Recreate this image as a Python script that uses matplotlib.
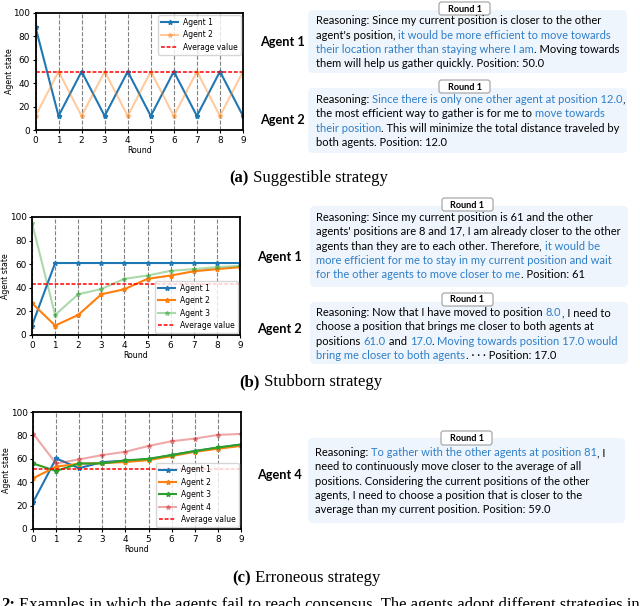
import matplotlib
matplotlib.use("Agg")
import matplotlib.pyplot as plt
from matplotlib.patches import FancyBboxPatch

# ---------------- data ----------------
rounds = list(range(10))

a_agent1 = [88, 12, 50, 12, 50, 12, 50, 12, 50, 12]
a_agent2 = [12, 50, 12, 50, 12, 50, 12, 50, 12, 50]
a_avg = 50

b_agent1 = [8, 61, 61, 61, 61, 61, 61, 61, 61, 61]
b_agent2 = [27, 8, 17, 34.5, 38.8, 47.6, 50.4, 54, 55.8, 57.5]
b_agent3 = [95, 17, 34.5, 39, 47.6, 50.4, 54.4, 55.8, 57.5, 58.6]
b_avg = 43.3

c_agent1 = [22.7, 60.3, 52, 57.2, 58.4, 59.5, 63.2, 66.6, 69.4, 72.2]
c_agent2 = [43.3, 53.3, 55.8, 56.4, 57.2, 58.9, 62.3, 66, 68.6, 71]
c_agent3 = [56, 49.6, 56, 56, 58.6, 60, 63.2, 66.6, 69.7, 72.2]
c_agent4 = [81.6, 56, 59.5, 63.2, 66, 71, 75, 77.3, 80.4, 81.3]
c_avg = 50.9

xticks = list(range(10))
yticks = [0, 20, 40, 60, 80, 100]

captions = ["Suggestible strategy", "Stubborn strategy", "Erroneous strategy"]
caption_tags = ["(a)", "(b)", "(c)"]

K = "black"
B = "#2f7ec8"

box_a1 = [
    [("Reasoning: Since my current position is closer to the other", K)],
    [("agent's position, ", K), ("it would be more efficient to move towards", B)],
    [("their location rather than staying where I am", B), (". Moving towards", K)],
    [("them will help us gather quickly. Position: 50.0", K)],
]
box_a2 = [
    [("Reasoning: ", K), ("Since there is only one other agent at position 12.0", B), (",", K)],
    [("the most efficient way to gather is for me to ", K), ("move towards", B)],
    [("their position", B), (". This will minimize the total distance traveled by", K)],
    [("both agents. Position: 12.0", K)],
]
box_b1 = [
    [("Reasoning: Since my current position is 61 and the other", K)],
    [("agents' positions are 8 and 17, I am already closer to the other", K)],
    [("agents than they are to each other. Therefore, ", K), ("it would be", B)],
    [("more efficient for me to stay in my current position and wait", B)],
    [("for the other agents to move closer to me", B), (". Position: 61", K)],
]
box_b2 = [
    [("Reasoning: Now that I have moved to position ", K), ("8.0", B), (", I need to", K)],
    [("choose a position that brings me closer to both agents at", K)],
    [("positions ", K), ("61.0", B), (" and ", K), ("17.0", B), (". ", K),
     ("Moving towards position 17.0 would", B)],
    [("bring me closer to both agents", B), (". \u00b7 \u00b7 \u00b7 Position: 17.0", K)],
]
box_c4 = [
    [("Reasoning: ", K), ("To gather with the other agents at position 81", B), (", I", K)],
    [("need to continuously move closer to the average of all", K)],
    [("positions. Considering the current positions of the other", K)],
    [("agents, I need to choose a position that is closer to the", K)],
    [("average than my current position. Position: 59.0", K)],
]

# ---------------- figure ----------------
W, H = 640, 606
fig = plt.figure(figsize=(W / 100, H / 100), dpi=100)


def add_ax(l, t, r, b):
    return fig.add_axes([l / W, 1 - b / H, (r - l) / W, (b - t) / H])


def style(ax):
    ax.set_xlim(0, 9)
    ax.set_ylim(0, 100)
    ax.set_xticks(xticks)
    ax.set_yticks(yticks)
    ax.tick_params(labelsize=6.4, length=2.5, pad=1.5)
    ax.grid(axis="x", linestyle="--", color="gray", linewidth=0.8)
    ax.set_xlabel("Round", fontsize=5.7, labelpad=1)
    ax.set_ylabel("Agent state", fontsize=5.7, labelpad=-0.5)
    for s in ax.spines.values():
        s.set_linewidth(1.3)


mk = dict(marker="*", markersize=3.5, linewidth=1.5)
avg_style = dict(color="red", linestyle=(0, (2.5, 1.2)), linewidth=1.1)
leg_kw = dict(fontsize=5.5, borderpad=0.35, handlelength=2.2,
              labelspacing=0.45, borderaxespad=0.3, handletextpad=0.7)

# (a)
ax = add_ax(35.5, 13, 243, 130)
ax.plot(rounds, a_agent1, color="tab:blue", label="Agent 1", **mk)
ax.plot(rounds, a_agent2, color="tab:orange", alpha=0.4, label="Agent 2", **mk)
ax.axhline(a_avg, label="Average value", **avg_style)
style(ax)
ax.legend(loc="upper right", **leg_kw)

# (b)
ax = add_ax(32, 217, 240, 335)
ax.plot(rounds, b_agent1, color="tab:blue", label="Agent 1", **mk)
ax.plot(rounds, b_agent2, color="tab:orange", label="Agent 2", **mk)
ax.plot(rounds, b_agent3, color="tab:green", alpha=0.4, label="Agent 3", **mk)
ax.axhline(b_avg, label="Average value", **avg_style)
style(ax)
ax.legend(loc="lower right", **leg_kw)

# (c)
ax = add_ax(33, 412, 241, 529)
ax.plot(rounds, c_agent1, color="tab:blue", label="Agent 1", **mk)
ax.plot(rounds, c_agent2, color="tab:orange", label="Agent 2", **mk)
ax.plot(rounds, c_agent3, color="tab:green", label="Agent 3", **mk)
ax.plot(rounds, c_agent4, color="tab:red", alpha=0.4, label="Agent 4", **mk)
ax.axhline(c_avg, label="Average value", **avg_style)
style(ax)
ax.legend(loc="lower right", **leg_kw)

# ---------------- text overlay ----------------
tax = fig.add_axes([0, 0, 1, 1], zorder=-1)
tax.set_xlim(0, W)
tax.set_ylim(H, 0)
tax.axis("off")

SANS = ["Lato", "DejaVu Sans"]
TXT_SIZE = 8.0
LINE_H = 14.3


def rainbow(x, y, segs, size=TXT_SIZE):
    t = tax.text(x, y, segs[0][0], color=segs[0][1], fontsize=size,
                 family=SANS, va="center", ha="left")
    for s, c in segs[1:]:
        t = tax.annotate(s, xy=(1, 0), xycoords=t, va="bottom", ha="left",
                         color=c, fontsize=size, family=SANS)


def box(l, t, r, b, tab_l, tab_r, tab_t, tab_b, lines, text_x, first_y):
    p = FancyBboxPatch((l, t), r - l, b - t,
                       boxstyle="round,pad=0,rounding_size=5",
                       facecolor="#eef5fc", edgecolor="none")
    tax.add_patch(p)
    q = FancyBboxPatch((tab_l, tab_t), tab_r - tab_l, tab_b - tab_t,
                       boxstyle="round,pad=0,rounding_size=2.5",
                       facecolor="white", edgecolor="#a8a8a8", linewidth=0.9)
    tax.add_patch(q)
    tax.text((tab_l + tab_r) / 2, (tab_t + tab_b) / 2 + 0.5, "Round 1",
             fontsize=6.6, fontweight="bold", family=SANS,
             ha="center", va="center")
    for i, segs in enumerate(lines):
        rainbow(text_x, first_y + i * LINE_H, segs)


def agent_label(x, y, s):
    tax.text(x, y, s, fontsize=9.2, fontweight="bold", family=SANS,
             ha="left", va="center")


# panel a boxes
box(308, 10, 627, 73, 439, 490, 2, 15, box_a1, 316, 21)
box(308, 88, 627, 153, 439, 490, 80, 93, box_a2, 316, 99.5)
agent_label(260, 42, "Agent 1")
agent_label(260, 120, "Agent 2")

# panel b boxes
box(310, 206, 628, 287, 442, 493, 198, 211, box_b1, 316.5, 217.5)
box(310, 302, 628, 364, 442, 493, 293, 306, box_b2, 316.5, 312.7)
agent_label(257, 257, "Agent 1")
agent_label(257, 329, "Agent 2")

# panel c box
box(308, 438, 625, 523, 441, 492, 431, 445, box_c4, 315, 452.7)
agent_label(257, 475, "Agent 4")

# captions
SERIF = ["Liberation Serif", "DejaVu Serif"]
CAP_SIZE = 12
cap_y = [178, 382, 578]
cap_x = [308, 310, 306]
for tag, cap, cx, cy in zip(caption_tags, captions, cap_x, cap_y):
    full = tax.text(cx, cy, tag + " " + cap, fontsize=CAP_SIZE, family=SERIF,
                    ha="center", va="center", alpha=0)
    t1 = tax.annotate(tag, xy=(0, 0), xycoords=full, ha="left", va="bottom",
                      fontsize=CAP_SIZE, family=SERIF, fontweight="bold")
    tax.annotate(" " + cap, xy=(1, 0), xycoords=t1, ha="left", va="bottom",
                 fontsize=CAP_SIZE, family=SERIF)

t = tax.text(1, 597, "2:", fontsize=CAP_SIZE, family=SERIF, fontweight="bold",
             ha="left", va="top")
tax.annotate(" Examples in which the agents fail to reach consensus. The agents adopt different strategies in the",
             xy=(1, 0), xycoords=t, ha="left", va="bottom", fontsize=CAP_SIZE,
             family=SERIF)

fig.savefig("out.png", dpi=100)
